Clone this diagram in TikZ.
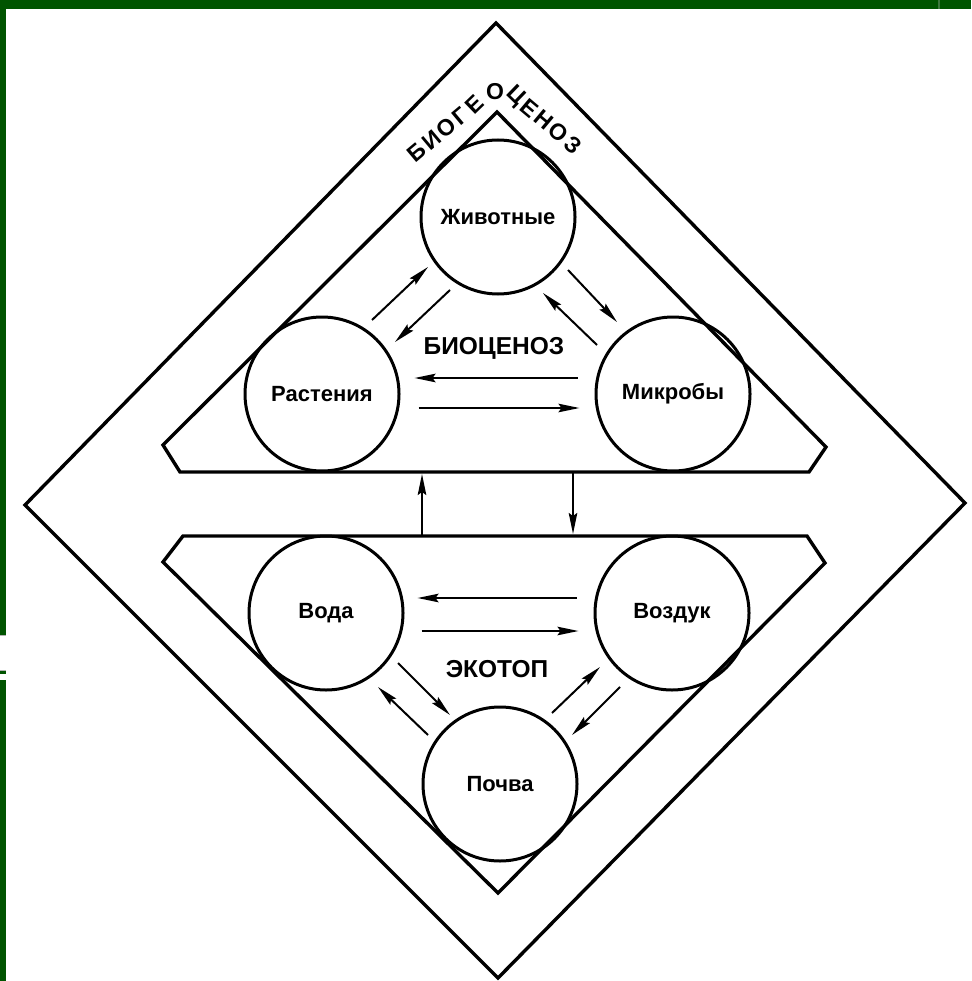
\documentclass[tikz,border=0pt]{standalone}
\usepackage{fontspec}
\setmainfont{Liberation Sans}
\usetikzlibrary{arrows.meta,calc}
\definecolor{bandgreen}{RGB}{0,84,0}
\definecolor{bandlight}{RGB}{60,120,60}
\begin{document}
\begin{tikzpicture}[x=1pt,y=-1pt,
  outl/.style={line width=3.4pt, line join=miter},
  circ/.style={circle, draw, line width=3pt, minimum size=154pt, inner sep=0pt, font=\fontsize{22}{22}\selectfont\bfseries},
  lbl/.style={font=\fontsize{24.5}{25}\selectfont\bfseries, inner sep=0pt},
  arr/.style={line width=2pt, -{Stealth[length=21pt,width=8.5pt,inset=3pt]}},
  gl/.style={font=\fontsize{23}{23}\selectfont\bfseries, inner sep=0pt}]
\useasboundingbox (0,0) rectangle (971,981);
\fill[white] (0,0) rectangle (971,981);
% green frame
\fill[bandgreen] (0,0) rectangle (971,9);
\fill[bandlight] (938,0) rectangle (940,9);
\fill[bandgreen] (0,9) rectangle (6,635);
\fill[bandgreen] (0,671) rectangle (6,674);
\fill[bandgreen] (0,680) rectangle (6,981);
\draw[gray!60, line width=0.8pt] (0,635.5) -- (6,635.5);
\draw[gray!60, line width=0.8pt] (0,670.5) -- (6,670.5);
% outlines
\draw[outl] (496,23) -- (965,503) -- (498,978) -- (25,505) -- cycle;
\draw[outl] (497,112) -- (826,447) -- (809,472) -- (180,472) -- (163,445) -- cycle;
\draw[outl] (183,536) -- (807,536) -- (825,563) -- (498,893) -- (163,562) -- cycle;
% circles
\node[circ] (zh)  at (498,217) {Животные};
\node[circ] (ras) at (322,394) {Растения};
\node[circ] (mik) at (673,394) {Микробы};
\node[circ] (voda) at (326,613) {Вода};
\node[circ] (vozd) at (672,613) {Воздук};
\node[circ] (poch) at (500,784) {Почва};
% labels
\node[lbl] (bio) at (494,348) {БИОЦЕНОЗ};
\node[lbl] (eko) at (497,669) {ЭКОТОП};
% BIOGEOCENOZ around the apex
\node[gl, rotate=40] (g1) at (417,152) {Б};
\node[gl, rotate=40] (g2) at (431.5,140) {И};
\node[gl, rotate=40] (g3) at (446,128) {О};
\node[gl, rotate=40] (g4) at (460.5,116) {Г};
\node[gl, rotate=44] (g5) at (475,104) {Е};
\node[gl] (g6) at (495,92) {О};
\node[gl, rotate=-44] (g7) at (515,96) {Ц};
\node[gl, rotate=-40] (g8) at (529.5,108) {Е};
\node[gl, rotate=-40] (g9) at (544,120) {Н};
\node[gl, rotate=-40] (g10) at (558.5,132) {О};
\node[gl, rotate=-40] (g11) at (573,145) {З};
% arrow end points
\coordinate (a1s) at (372,320); \coordinate (a1e) at (428,267);
\coordinate (a2s) at (450,290); \coordinate (a2e) at (395,342);
\coordinate (a3s) at (568,270); \coordinate (a3e) at (617,322);
\coordinate (a4s) at (597,345); \coordinate (a4e) at (543,293);
\coordinate (a5s) at (398,663); \coordinate (a5e) at (450,715);
\coordinate (a6s) at (428,735); \coordinate (a6e) at (378,687);
\coordinate (a7s) at (552,713); \coordinate (a7e) at (600,667);
\coordinate (a8s) at (620,687); \coordinate (a8e) at (572,735);
\coordinate (v1s) at (422,536); \coordinate (v1e) at (422,474);
\coordinate (v2s) at (573,472); \coordinate (v2e) at (573,534);
% arrows
\draw[arr] (a1s) -- (a1e);
\draw[arr] (a2s) -- (a2e);
\draw[arr] (a3s) -- (a3e);
\draw[arr] (a4s) -- (a4e);
\draw[arr] ($(mik.west)+(-17,-16)$) -- ($(ras.east)+(14,-16)$);
\draw[arr] ($(ras.east)+(18,14)$) -- ($(mik.west)+(-15,14)$);
\draw[arr] ($(vozd.west)+(-17,-15)$) -- ($(voda.east)+(13,-15)$);
\draw[arr] ($(voda.east)+(17,18)$) -- ($(vozd.west)+(-15,18)$);
\draw[arr] (a5s) -- (a5e);
\draw[arr] (a6s) -- (a6e);
\draw[arr] (a7s) -- (a7e);
\draw[arr] (a8s) -- (a8e);
\draw[arr] (v1s) -- (v1e);
\draw[arr] (v2s) -- (v2e);
\end{tikzpicture}
\end{document}
